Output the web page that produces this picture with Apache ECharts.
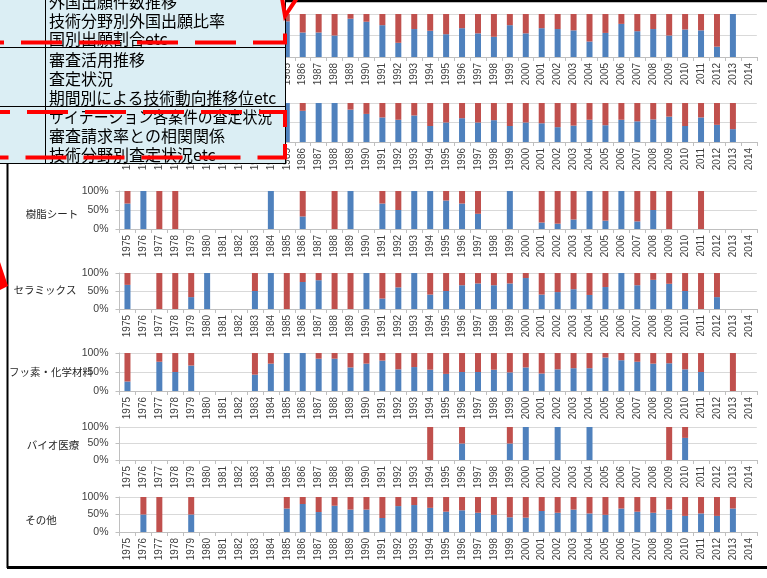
<!DOCTYPE html>
<html>
<head>
<meta charset="utf-8">
<script src="https://cdn.jsdelivr.net/npm/echarts@6/dist/echarts.min.js"></script>
<style>
html,body{margin:0;padding:0;background:#fff}
#c{width:767px;height:578px}
</style>
</head>
<body>
<div id="c"></div>
<script>
// Application years on the category axis
const years = ['1975','1976','1977','1978','1979','1980','1981','1982','1983','1984',
  '1985','1986','1987','1988','1989','1990','1991','1992','1993','1994',
  '1995','1996','1997','1998','1999','2000','2001','2002','2003','2004',
  '2005','2006','2007','2008','2009','2010','2011','2012','2013','2014'];

// Percent tick labels of each small chart
const pctTicks = [0, 50, 100];

// Technology field names, one per row (first two rows sit under the notes)
const fieldNames = ['', '', '樹脂シート', 'セラミックス', 'フッ素・化学材料', 'バイオ医療', 'その他'];

// Share (%) of the blue part per year; null = no applications that year
const shareRow0 = [null,null,null,null,null,null,null,null,null,null,
  83,57,57,50,89,82,74,33,65,61,53,67,55,47,74,55,67,65,62,36,56,77,60,65,50,64,62,24,100,null];
const shareRow1 = [null,null,null,null,null,null,null,null,null,null,
  100,80,100,100,83,72,63,57,68,41,50,61,50,56,41,50,48,38,42,57,43,57,53,58,65,41,63,44,33,null];
const shareResin = [67,100,0,0,null,null,null,null,null,100,
  null,33,null,0,100,null,67,50,100,100,75,67,40,null,100,null,17,14,25,100,22,100,20,50,0,null,0,null,null,null];
const shareCeramic = [67,null,0,0,33,100,null,null,50,100,
  0,75,80,0,0,100,29,60,100,40,50,66,71,66,71,86,40,47,55,39,61,100,66,81,70,50,0,33,null,null];
const shareFluoro = [25,null,77,50,67,null,null,null,43,72,
  100,100,85,85,62,72,80,57,63,56,45,50,50,56,49,62,46,57,60,60,88,81,77,72,73,57,50,null,0,null];
const shareBio = [null,null,null,null,null,null,null,null,null,null,
  null,null,null,null,null,null,null,null,null,0,null,50,null,null,50,100,null,100,null,100,
  null,null,null,null,0,67,null,null,null,null];
const shareOther = [null,50,0,null,50,null,null,null,null,null,
  67,80,57,75,64,64,40,74,77,69,58,62,55,49,42,41,60,55,64,53,49,67,58,55,64,46,53,46,67,null];

const rows = [shareRow0, shareRow1, shareResin, shareCeramic, shareFluoro, shareBio, shareOther];

// Note texts in the three boxes
const noteLines = [
  ['外国出願件数推移', '技術分野別外国出願比率', '国別出願割合etc'],
  ['審査活用推移', '査定状況', '期間別による技術動向推移位etc'],
  ['サイテーション各案件の査定状況', '審査請求率との相関関係', '技術分野別査定状況etc']
];

// ---- layout ----
const plotLeft = 119.5, plotWidth = 637.3;
const rowBox = [[14, 43], [103, 39], [191, 38], [273, 36], [353, 38], [427, 33], [497, 35]];
const nameCenter = [[0, 0], [0, 0], [52, 214], [45, 290], [51, 372], [53, 445], [41, 520]];
const noteY = [[2, 21, 39], [60, 79, 98], [117, 136, 155]];
// horizontal squeeze of note lines (katakana-heavy lines are set tighter)
const noteScale = [[1, 1, 1], [1, 1, 0.985], [0.93, 1, 1]];

const BLUE = '#4f81bd', RED = '#c0504d', AXIS = '#bfbfbf', GRIDC = '#d9d9d9', TXT = '#404040';

const grids = [], xAxes = [], yAxes = [], series = [];
rows.forEach((share, i) => {
  grids.push({left: plotLeft, width: plotWidth, top: rowBox[i][0], height: rowBox[i][1], outerBoundsMode: 'none'});
  xAxes.push({
    type: 'category', gridIndex: i, data: years,
    axisLine: {show: true, lineStyle: {color: AXIS, width: 1}},
    axisTick: {show: true, length: 4, lineStyle: {color: AXIS}},
    axisLabel: {rotate: 90, interval: 0, fontSize: 10, color: TXT, margin: 6, fontFamily: 'Liberation Sans'},
    splitLine: {show: false}
  });
  yAxes.push({
    type: 'value', gridIndex: i, min: pctTicks[0], max: pctTicks[2], interval: pctTicks[1],
    axisLine: {show: true, lineStyle: {color: AXIS}},
    axisTick: {show: true, length: 4, lineStyle: {color: AXIS}},
    axisLabel: {formatter: '{value}%', fontSize: 10.5, color: TXT, margin: 11, fontFamily: 'Liberation Sans'},
    splitLine: {show: true, lineStyle: {color: GRIDC, width: 1}}
  });
  const rest = share.map(v => v === null ? null : 100 - v);
  series.push({
    type: 'bar', xAxisIndex: i, yAxisIndex: i, stack: 's' + i, data: share,
    barWidth: 6, itemStyle: {color: BLUE}, silent: true, animation: false
  });
  series.push({
    type: 'bar', xAxisIndex: i, yAxisIndex: i, stack: 's' + i, data: rest,
    barWidth: 6, itemStyle: {color: RED}, silent: true, animation: false
  });
});

// ---- overlay drawing: field names, note boxes, frame and red markers ----
const graphic = [];
const Z = 100;
fieldNames.forEach((n, i) => {
  if (!n) return;
  graphic.push({type: 'text', z: Z, x: nameCenter[i][0], y: nameCenter[i][1],
    style: {text: n, fill: '#262626', font: '10.5px "Noto Sans CJK JP"', textAlign: 'center', textVerticalAlign: 'middle'}});
});

function line(x1, y1, x2, y2, w, color, dash) {
  return {type: 'line', z: Z + 2, shape: {x1, y1, x2, y2},
    style: {stroke: color || '#000', lineWidth: w || 1, lineDash: dash || null}};
}

// frame of the chart panel
graphic.push(line(285, 1, 767, 1, 2.5));
graphic.push(line(7.5, 164, 7.5, 568, 2));
graphic.push(line(7, 567.5, 767, 567.5, 3));

// note boxes
graphic.push({type: 'rect', z: Z + 1, shape: {x: 0, y: 0, width: 285.5, height: 164},
  style: {fill: '#dbeef4', stroke: null}});
graphic.push(line(285.5, 0, 285.5, 164));
graphic.push(line(45.5, 0, 45.5, 164));
graphic.push(line(0, 47.5, 285.5, 47.5));
graphic.push(line(0, 106.5, 285.5, 106.5));
graphic.push(line(0, 163.5, 285.5, 163.5));
noteLines.forEach((grp, b) => {
  grp.forEach((t, k) => {
    graphic.push({type: 'text', z: Z + 3, x: 49, y: noteY[b][k], scaleX: noteScale[b][k],
      style: {text: t, fill: '#000', font: '16px "Noto Sans CJK JP"', textVerticalAlign: 'middle'}});
  });
});

// red dashed highlight frames
graphic.push({type: 'polyline', z: Z + 4, shape: {points: [[-37, 42.5], [285, 42.5], [285, 24]]},
  style: {stroke: '#ff0000', lineWidth: 4, lineDash: [41, 17], fill: null}});
graphic.push({type: 'polyline', z: Z + 4, shape: {points: [[-31, 112], [285, 112], [285, 157.5], [-31, 157.5]]},
  style: {stroke: '#ff0000', lineWidth: 4, lineDash: [41, 17], fill: null}});
graphic.push({type: 'polyline', z: Z + 4, shape: {points: [[282, -2], [285, 16], [297, -2]]},
  style: {stroke: '#ff0000', lineWidth: 4, fill: null}});
graphic.push({type: 'polygon', z: Z + 4, shape: {points: [[0, 262], [8, 286], [0, 290]]},
  style: {fill: '#ff0000'}});

const chart = echarts.init(document.getElementById('c'), null, {renderer: 'canvas'});
chart.setOption({
  animation: false,
  backgroundColor: '#fff',
  grid: grids, xAxis: xAxes, yAxis: yAxes, series: series,
  graphic: graphic
});
</script>
</body>
</html>
